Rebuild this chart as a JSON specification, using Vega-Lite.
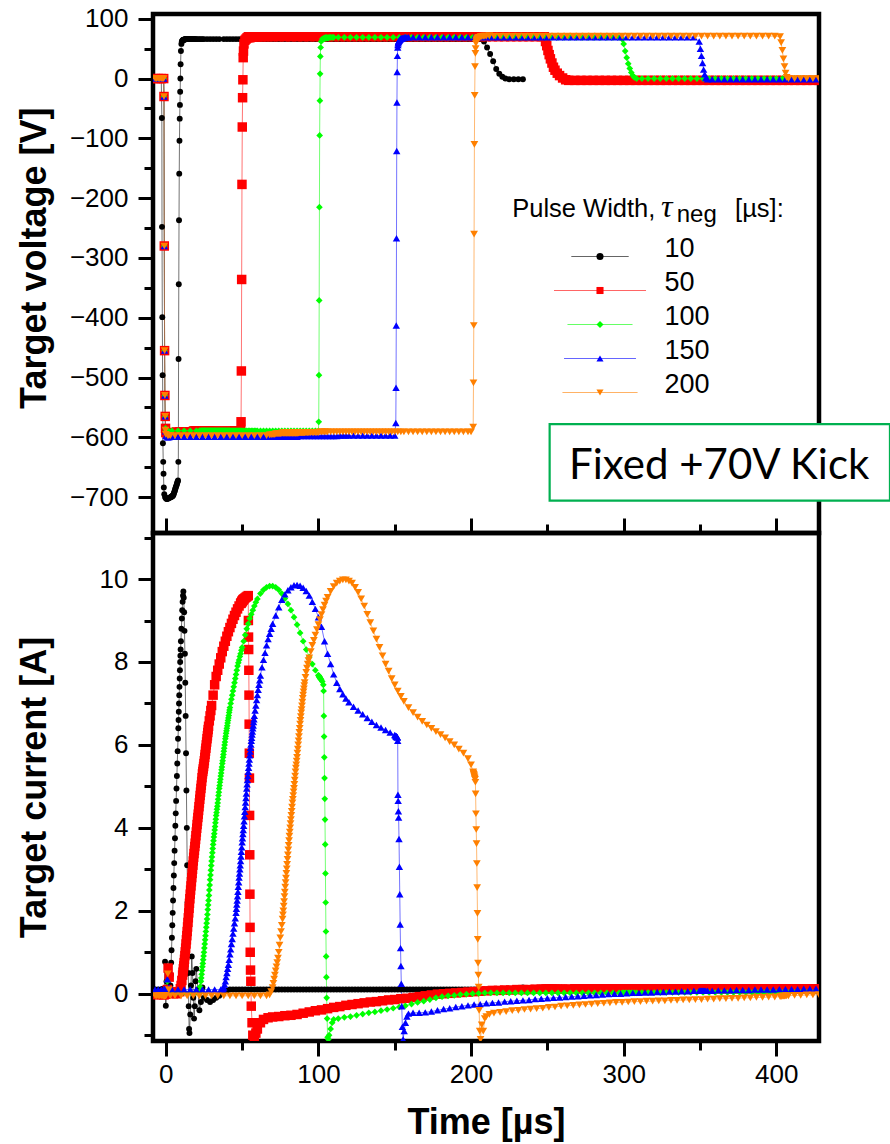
{
"$schema": "https://vega.github.io/schema/vega-lite/v6.json",
"background": "white",
"padding": {"left": 14, "top": 3, "right": 0, "bottom": 0},
"spacing": 0,
"bounds": "flush",
"config": {
  "font": "Liberation Sans",
  "view": {"stroke": "black", "strokeWidth": 4.5},
  "axis": {"domain": false, "grid": false, "tickColor": "black", "tickWidth": 3, "labelFont": "Liberation Sans", "labelFontSize": 26, "labelColor": "black", "labelFlush": false, "labelOverlap": false, "titleFont": "Liberation Sans", "titleFontSize": 36, "titleFontWeight": "bold", "titleColor": "black"},
  "legend": {"labelFont": "Liberation Sans"}
},
"resolve": {"scale": {"stroke": "independent", "fill": "independent", "shape": "independent", "size": "independent"}},
"data": {"values": [
{"pw":10,"t":-7,"V":0,"I":0.1},{"pw":10,"t":-5,"V":0,"I":0.1},{"pw":10,"t":-3,"V":0,"I":0.1},{"pw":10,"t":-2.6,"V":-66,"I":0.1},{"pw":10,"t":-2.5,"V":-248,"I":0.1},{"pw":10,"t":-2.3,"V":-399,"I":0.1},{"pw":10,"t":-2.1,"V":-496,"I":0.1},{"pw":10,"t":-1.9,"V":-610,"I":0.1},{"pw":10,"t":-1.7,"V":-641,"I":0.1},{"pw":10,"t":-1.5,"V":-661,"I":0.1},{"pw":10,"t":-1.3,"V":-684,"I":0.1},{"pw":10,"t":-1,"V":-695,"I":0.1},{"pw":10,"t":-0.5,"V":-700,"I":0.77},{"pw":10,"t":0,"V":-702,"I":-0.29},{"pw":10,"t":0.5,"V":-703,"I":0.3},{"pw":10,"t":1,"V":-703,"I":0.1},{"pw":10,"t":1.5,"V":-702,"I":0.1},{"pw":10,"t":2,"V":-702,"I":0.1},{"pw":10,"t":2.5,"V":-701,"I":0.1},{"pw":10,"t":3,"V":-700,"I":0.2},{"pw":10,"t":3.25,"V":-700,"I":0.45},{"pw":10,"t":3.5,"V":-700,"I":0.75},{"pw":10,"t":3.75,"V":-699,"I":1.05},{"pw":10,"t":4,"V":-699,"I":1.35},{"pw":10,"t":4.25,"V":-698,"I":1.65},{"pw":10,"t":4.5,"V":-698,"I":1.95},{"pw":10,"t":4.75,"V":-697,"I":2.25},{"pw":10,"t":5,"V":-696,"I":2.55},{"pw":10,"t":5.25,"V":-694,"I":2.85},{"pw":10,"t":5.5,"V":-692,"I":3.15},{"pw":10,"t":5.75,"V":-690,"I":3.45},{"pw":10,"t":6,"V":-688,"I":3.75},{"pw":10,"t":6.25,"V":-686,"I":4.05},{"pw":10,"t":6.5,"V":-684,"I":4.35},{"pw":10,"t":6.75,"V":-682,"I":4.65},{"pw":10,"t":7,"V":-680,"I":4.95},{"pw":10,"t":7.25,"V":-678,"I":5.25},{"pw":10,"t":7.5,"V":-676,"I":5.55},{"pw":10,"t":7.75,"V":-674,"I":5.85},{"pw":10,"t":8,"V":-672,"I":6.15},{"pw":10,"t":8.2,"V":-641,"I":6.4},{"pw":10,"t":8.35,"V":-469,"I":6.6},{"pw":10,"t":8.5,"V":-344,"I":6.8},{"pw":10,"t":8.65,"V":-237,"I":7},{"pw":10,"t":8.8,"V":-159,"I":7.2},{"pw":10,"t":8.95,"V":-104,"I":7.4},{"pw":10,"t":9.1,"V":-67,"I":7.6},{"pw":10,"t":9.25,"V":-44,"I":7.8},{"pw":10,"t":9.4,"V":-22,"I":8},{"pw":10,"t":9.55,"V":0,"I":8.15},{"pw":10,"t":9.7,"V":24,"I":8.3},{"pw":10,"t":9.9,"V":46,"I":8.5},{"pw":10,"t":10.2,"V":58,"I":8.8},{"pw":10,"t":10.5,"V":62,"I":9.05},{"pw":10,"t":10.75,"V":63,"I":9.25},{"pw":10,"t":11,"V":64,"I":9.45},{"pw":10,"t":11.25,"V":64,"I":9.6},{"pw":10,"t":11.5,"V":65,"I":9.7},{"pw":10,"t":11.75,"V":65,"I":9.55},{"pw":10,"t":12,"V":65,"I":9.2},{"pw":10,"t":12.25,"V":65,"I":8.75},{"pw":10,"t":12.5,"V":66,"I":8.2},{"pw":10,"t":12.75,"V":66,"I":7.5},{"pw":10,"t":13,"V":66,"I":6.7},{"pw":10,"t":13.25,"V":66,"I":5.8},{"pw":10,"t":13.5,"V":66,"I":4.9},{"pw":10,"t":13.75,"V":66,"I":4},{"pw":10,"t":14,"V":66,"I":3.1},{"pw":10,"t":14.25,"V":66,"I":2.2},{"pw":10,"t":14.5,"V":66,"I":1.3},{"pw":10,"t":14.75,"V":66,"I":0.5},{"pw":10,"t":15,"V":66,"I":-0.3},{"pw":10,"t":15.25,"V":66,"I":-0.85},{"pw":10,"t":15.5,"V":66,"I":-0.95},{"pw":10,"t":16,"V":66,"I":-0.5},{"pw":10,"t":16.5,"V":66,"I":0.2},{"pw":10,"t":17,"V":66,"I":0.9},{"pw":10,"t":17.5,"V":66,"I":0.5},{"pw":10,"t":18,"V":66,"I":-0.1},{"pw":10,"t":18.5,"V":66,"I":-0.6},{"pw":10,"t":19,"V":66,"I":-0.3},{"pw":10,"t":19.5,"V":66,"I":0.3},{"pw":10,"t":20,"V":66,"I":0.6},{"pw":10,"t":21,"V":66,"I":0.1},{"pw":10,"t":22,"V":66,"I":-0.4},{"pw":10,"t":23,"V":66,"I":-0.2},{"pw":10,"t":24,"V":66,"I":0.15},{"pw":10,"t":25,"V":66,"I":-0.1},{"pw":10,"t":27,"V":66,"I":-0.15},{"pw":10,"t":29,"V":66,"I":-0.2},{"pw":10,"t":31,"V":66,"I":-0.15},{"pw":10,"t":33,"V":66,"I":-0.1},{"pw":10,"t":35,"V":66,"I":-0.05},{"pw":10,"t":38,"V":66,"I":0.05},{"pw":10,"t":40,"V":66,"I":0.08},
{"pw":10,"t":42,"V":66,"I":0.1},{"pw":10,"t":44,"V":66,"I":0.1},{"pw":10,"t":46,"V":66,"I":0.1},{"pw":10,"t":48,"V":66,"I":0.1},{"pw":10,"t":50,"V":66,"I":0.1},{"pw":10,"t":52,"V":66,"I":0.1},{"pw":10,"t":54,"V":66,"I":0.1},{"pw":10,"t":56,"V":66,"I":0.1},{"pw":10,"t":58,"V":66,"I":0.1},{"pw":10,"t":60,"V":66,"I":0.1},{"pw":10,"t":62,"V":66,"I":0.1},{"pw":10,"t":64,"V":66,"I":0.1},{"pw":10,"t":66,"V":66,"I":0.1},{"pw":10,"t":68,"V":66,"I":0.1},{"pw":10,"t":70,"V":66,"I":0.1},{"pw":10,"t":72,"V":66,"I":0.1},{"pw":10,"t":74,"V":66,"I":0.1},{"pw":10,"t":76,"V":66,"I":0.1},{"pw":10,"t":78,"V":66,"I":0.1},{"pw":10,"t":80,"V":66,"I":0.1},{"pw":10,"t":82,"V":66,"I":0.1},{"pw":10,"t":84,"V":66,"I":0.1},{"pw":10,"t":86,"V":66,"I":0.1},{"pw":10,"t":88,"V":66,"I":0.1},{"pw":10,"t":90,"V":66,"I":0.1},{"pw":10,"t":92,"V":66,"I":0.1},{"pw":10,"t":94,"V":66,"I":0.1},{"pw":10,"t":96,"V":66,"I":0.1},{"pw":10,"t":98,"V":66,"I":0.1},{"pw":10,"t":100,"V":66,"I":0.1},{"pw":10,"t":102,"V":66,"I":0.1},{"pw":10,"t":104,"V":66,"I":0.1},{"pw":10,"t":106,"V":66,"I":0.1},{"pw":10,"t":108,"V":66,"I":0.1},{"pw":10,"t":110,"V":66,"I":0.1},{"pw":10,"t":112,"V":66,"I":0.1},{"pw":10,"t":114,"V":66,"I":0.1},{"pw":10,"t":116,"V":66,"I":0.1},{"pw":10,"t":118,"V":66,"I":0.1},{"pw":10,"t":120,"V":66,"I":0.1},{"pw":10,"t":122,"V":66,"I":0.1},{"pw":10,"t":124,"V":66,"I":0.1},{"pw":10,"t":126,"V":66,"I":0.1},{"pw":10,"t":128,"V":66,"I":0.1},{"pw":10,"t":130,"V":66,"I":0.1},{"pw":10,"t":132,"V":66,"I":0.1},{"pw":10,"t":134,"V":66,"I":0.1},{"pw":10,"t":136,"V":66,"I":0.1},{"pw":10,"t":138,"V":66,"I":0.1},{"pw":10,"t":140,"V":66,"I":0.1},{"pw":10,"t":142,"V":66,"I":0.1},{"pw":10,"t":144,"V":66,"I":0.1},{"pw":10,"t":146,"V":66,"I":0.1},{"pw":10,"t":148,"V":66,"I":0.1},{"pw":10,"t":150,"V":66,"I":0.1},{"pw":10,"t":152,"V":66,"I":0.1},{"pw":10,"t":154,"V":66,"I":0.1},{"pw":10,"t":156,"V":66,"I":0.1},{"pw":10,"t":158,"V":66,"I":0.1},{"pw":10,"t":160,"V":66,"I":0.1},{"pw":10,"t":162,"V":66,"I":0.1},{"pw":10,"t":164,"V":66,"I":0.1},{"pw":10,"t":166,"V":66,"I":0.1},{"pw":10,"t":168,"V":66,"I":0.1},{"pw":10,"t":170,"V":66,"I":0.1},{"pw":10,"t":172,"V":66,"I":0.1},{"pw":10,"t":174,"V":66,"I":0.1},{"pw":10,"t":176,"V":66,"I":0.1},{"pw":10,"t":178,"V":66,"I":0.1},{"pw":10,"t":180,"V":66,"I":0.1},{"pw":10,"t":182,"V":66,"I":0.1},{"pw":10,"t":184,"V":66,"I":0.1},{"pw":10,"t":186,"V":66,"I":0.1},{"pw":10,"t":188,"V":66,"I":0.1},{"pw":10,"t":190,"V":66,"I":0.1},{"pw":10,"t":192,"V":66,"I":0.1},{"pw":10,"t":194,"V":66,"I":0.1},{"pw":10,"t":196,"V":66,"I":0.1},{"pw":10,"t":198,"V":66,"I":0.1},{"pw":10,"t":200,"V":66,"I":0.1},{"pw":10,"t":202,"V":66,"I":0.1},{"pw":10,"t":204,"V":66,"I":0.1},{"pw":10,"t":206,"V":66,"I":0.1},{"pw":10,"t":208.5,"V":62,"I":0.1},{"pw":10,"t":210.5,"V":52,"I":0.1},{"pw":10,"t":212.5,"V":41,"I":0.1},{"pw":10,"t":214.5,"V":29,"I":0.1},{"pw":10,"t":216.5,"V":16,"I":0.1},{"pw":10,"t":218.5,"V":8,"I":0.1},{"pw":10,"t":220.5,"V":3,"I":0.1},{"pw":10,"t":222.5,"V":0,"I":0.1},{"pw":10,"t":225,"V":-1,"I":0.1},{"pw":10,"t":228,"V":-1,"I":0.1},{"pw":10,"t":231,"V":-1,"I":0.12},{"pw":10,"t":234,"V":-1,"I":0.15},
{"pw":50,"t":-7,"V":0,"I":-0.02},{"pw":50,"t":-5,"V":0,"I":-0.02},{"pw":50,"t":-3,"V":0,"I":-0.02},{"pw":50,"t":-1.4,"V":0,"I":-0.02},{"pw":50,"t":-1.2,"V":-30,"I":-0.02},{"pw":50,"t":-1,"V":-280,"I":-0.02},{"pw":50,"t":-0.8,"V":-455,"I":0},{"pw":50,"t":-0.6,"V":-530,"I":0},{"pw":50,"t":-0.4,"V":-565,"I":0},{"pw":50,"t":-0.2,"V":-585,"I":0},{"pw":50,"t":0,"V":-592,"I":0},{"pw":50,"t":1,"V":-594,"I":0.1},{"pw":50,"t":1.5,"V":-594,"I":0.62},{"pw":50,"t":2.2,"V":-594,"I":0.4},{"pw":50,"t":3,"V":-593,"I":0.05},{"pw":50,"t":5,"V":-592,"I":0},{"pw":50,"t":7,"V":-591,"I":0},{"pw":50,"t":9,"V":-591,"I":0.05},{"pw":50,"t":9.5,"V":-591,"I":0.12},{"pw":50,"t":10,"V":-591,"I":0.2},{"pw":50,"t":10.5,"V":-591,"I":0.32},{"pw":50,"t":11,"V":-591,"I":0.45},{"pw":50,"t":11.25,"V":-591,"I":0.52},{"pw":50,"t":11.5,"V":-591,"I":0.6},{"pw":50,"t":11.75,"V":-591,"I":0.67},{"pw":50,"t":12,"V":-591,"I":0.75},{"pw":50,"t":12.25,"V":-591,"I":0.83},{"pw":50,"t":12.5,"V":-591,"I":0.92},{"pw":50,"t":12.75,"V":-591,"I":1.01},{"pw":50,"t":13,"V":-591,"I":1.1},{"pw":50,"t":13.25,"V":-591,"I":1.2},{"pw":50,"t":13.5,"V":-591,"I":1.3},{"pw":50,"t":13.75,"V":-591,"I":1.4},{"pw":50,"t":14,"V":-591,"I":1.5},{"pw":50,"t":14.25,"V":-591,"I":1.61},{"pw":50,"t":14.5,"V":-591,"I":1.72},{"pw":50,"t":14.75,"V":-591,"I":1.83},{"pw":50,"t":15,"V":-591,"I":1.95},{"pw":50,"t":15.25,"V":-591,"I":2.06},{"pw":50,"t":15.5,"V":-591,"I":2.18},{"pw":50,"t":15.75,"V":-591,"I":2.29},{"pw":50,"t":16,"V":-591,"I":2.4},{"pw":50,"t":16.25,"V":-591,"I":2.5},{"pw":50,"t":16.5,"V":-591,"I":2.6},{"pw":50,"t":16.75,"V":-591,"I":2.7},{"pw":50,"t":17,"V":-591,"I":2.8},{"pw":50,"t":17.25,"V":-591,"I":2.9},{"pw":50,"t":17.5,"V":-591,"I":3},{"pw":50,"t":17.75,"V":-591,"I":3.1},{"pw":50,"t":18,"V":-590,"I":3.2},{"pw":50,"t":18.25,"V":-590,"I":3.29},{"pw":50,"t":18.5,"V":-590,"I":3.38},{"pw":50,"t":18.75,"V":-590,"I":3.46},{"pw":50,"t":19,"V":-590,"I":3.55},{"pw":50,"t":19.25,"V":-590,"I":3.63},{"pw":50,"t":19.5,"V":-590,"I":3.72},{"pw":50,"t":19.75,"V":-590,"I":3.81},{"pw":50,"t":20,"V":-590,"I":3.9},{"pw":50,"t":20.25,"V":-590,"I":3.99},{"pw":50,"t":20.5,"V":-590,"I":4.08},{"pw":50,"t":20.75,"V":-590,"I":4.16},{"pw":50,"t":21,"V":-590,"I":4.25},{"pw":50,"t":21.25,"V":-590,"I":4.33},{"pw":50,"t":21.5,"V":-590,"I":4.42},{"pw":50,"t":21.75,"V":-590,"I":4.51},{"pw":50,"t":22,"V":-590,"I":4.6},{"pw":50,"t":22.25,"V":-590,"I":4.69},{"pw":50,"t":22.5,"V":-590,"I":4.78},{"pw":50,"t":22.75,"V":-590,"I":4.86},{"pw":50,"t":23,"V":-590,"I":4.95},{"pw":50,"t":23.25,"V":-590,"I":5.03},{"pw":50,"t":23.5,"V":-590,"I":5.12},{"pw":50,"t":23.75,"V":-590,"I":5.21},{"pw":50,"t":24,"V":-590,"I":5.3},{"pw":50,"t":24.25,"V":-590,"I":5.36},{"pw":50,"t":24.5,"V":-590,"I":5.42},{"pw":50,"t":24.75,"V":-590,"I":5.48},{"pw":50,"t":25,"V":-590,"I":5.55},{"pw":50,"t":25.25,"V":-590,"I":5.62},{"pw":50,"t":25.5,"V":-590,"I":5.7},{"pw":50,"t":25.75,"V":-590,"I":5.77},{"pw":50,"t":26,"V":-590,"I":5.85},{"pw":50,"t":26.25,"V":-590,"I":5.92},{"pw":50,"t":26.5,"V":-590,"I":6},{"pw":50,"t":26.75,"V":-590,"I":6.07},{"pw":50,"t":27,"V":-590,"I":6.15},{"pw":50,"t":27.25,"V":-590,"I":6.22},{"pw":50,"t":27.5,"V":-590,"I":6.3},{"pw":50,"t":27.75,"V":-590,"I":6.37},{"pw":50,"t":28,"V":-590,"I":6.45},{"pw":50,"t":28.5,"V":-590,"I":6.58},{"pw":50,"t":29,"V":-590,"I":6.7},{"pw":50,"t":29.5,"V":-590,"I":6.83},{"pw":50,"t":30,"V":-590,"I":6.95},{"pw":50,"t":31,"V":-590,"I":7.2},{"pw":50,"t":32,"V":-590,"I":7.45},{"pw":50,"t":33,"V":-590,"I":7.65},{"pw":50,"t":34,"V":-590,"I":7.8},{"pw":50,"t":35,"V":-590,"I":7.95},{"pw":50,"t":36,"V":-590,"I":8.1},{"pw":50,"t":37,"V":-590,"I":8.25},{"pw":50,"t":38,"V":-590,"I":8.38},{"pw":50,"t":39,"V":-590,"I":8.5},{"pw":50,"t":40,"V":-590,"I":8.62},{"pw":50,"t":41,"V":-590,"I":8.73},{"pw":50,"t":42,"V":-590,"I":8.83},{"pw":50,"t":43,"V":-590,"I":8.93},{"pw":50,"t":44,"V":-590,"I":9.03},{"pw":50,"t":45,"V":-589,"I":9.12},{"pw":50,"t":46,"V":-589,"I":9.2},{"pw":50,"t":47,"V":-589,"I":9.28},{"pw":50,"t":48,"V":-589,"I":9.35},{"pw":50,"t":49,"V":-589,"I":9.41},{"pw":50,"t":49.3,"V":-574,"I":9.42},{"pw":50,"t":49.5,"V":-489,"I":9.43},{"pw":50,"t":49.7,"V":-336,"I":9.44},{"pw":50,"t":49.9,"V":-177,"I":9.46},{"pw":50,"t":50.1,"V":-81,"I":9.47},{"pw":50,"t":50.3,"V":-32,"I":9.48},{"pw":50,"t":50.5,"V":-2,"I":9.49},{"pw":50,"t":50.7,"V":35,"I":9.5},{"pw":50,"t":50.9,"V":46,"I":9.51},{"pw":50,"t":51.2,"V":58,"I":9.52},{"pw":50,"t":51.8,"V":64,"I":9.54},{"pw":50,"t":52.5,"V":66,"I":9.56},{"pw":50,"t":53.2,"V":68,"I":9.58},{"pw":50,"t":54,"V":69,"I":9.6},{"pw":50,"t":54.1,"V":69,"I":9},{"pw":50,"t":54.2,"V":69,"I":8.6},{"pw":50,"t":54.3,"V":69,"I":8.3},{"pw":50,"t":54.4,"V":69,"I":7.8},{"pw":50,"t":54.5,"V":69,"I":7.2},{"pw":50,"t":54.6,"V":69,"I":6.5},{"pw":50,"t":54.7,"V":69,"I":5.8},{"pw":50,"t":54.8,"V":69,"I":5.2},{"pw":50,"t":54.9,"V":69,"I":4.3},{"pw":50,"t":55,"V":69,"I":3.35},{"pw":50,"t":55.1,"V":69,"I":2.4},{"pw":50,"t":55.2,"V":69,"I":1.6},{"pw":50,"t":55.3,"V":69,"I":1},{"pw":50,"t":55.5,"V":69,"I":0.57},{"pw":50,"t":55.7,"V":69,"I":0.3},{"pw":50,"t":56,"V":70,"I":-0.3},{"pw":50,"t":56.5,"V":70,"I":-0.7},{"pw":50,"t":57,"V":70,"I":-1},{"pw":50,"t":58,"V":70,"I":-1.05},{"pw":50,"t":59,"V":70,"I":-0.95},{"pw":50,"t":60,"V":70,"I":-0.85},{"pw":50,"t":62,"V":70,"I":-0.7},{"pw":50,"t":64,"V":70,"I":-0.62},{"pw":50,"t":67,"V":70,"I":-0.58},
{"pw":50,"t":70,"V":70,"I":-0.56},{"pw":50,"t":74,"V":70,"I":-0.55},{"pw":50,"t":78,"V":70,"I":-0.53},{"pw":50,"t":82,"V":70,"I":-0.52},{"pw":50,"t":86,"V":70,"I":-0.5},{"pw":50,"t":90,"V":70,"I":-0.47},{"pw":50,"t":94,"V":70,"I":-0.44},{"pw":50,"t":98,"V":70,"I":-0.41},{"pw":50,"t":102,"V":70,"I":-0.39},{"pw":50,"t":106,"V":70,"I":-0.36},{"pw":50,"t":110,"V":70,"I":-0.33},{"pw":50,"t":114,"V":70,"I":-0.31},{"pw":50,"t":118,"V":70,"I":-0.28},{"pw":50,"t":122,"V":70,"I":-0.26},{"pw":50,"t":126,"V":70,"I":-0.24},{"pw":50,"t":130,"V":70,"I":-0.22},{"pw":50,"t":134,"V":70,"I":-0.2},{"pw":50,"t":138,"V":70,"I":-0.19},{"pw":50,"t":142,"V":70,"I":-0.17},{"pw":50,"t":146,"V":70,"I":-0.15},{"pw":50,"t":150,"V":70,"I":-0.14},{"pw":50,"t":154,"V":70,"I":-0.12},{"pw":50,"t":158,"V":70,"I":-0.11},{"pw":50,"t":162,"V":70,"I":-0.09},{"pw":50,"t":166,"V":70,"I":-0.07},{"pw":50,"t":170,"V":70,"I":-0.05},{"pw":50,"t":174,"V":70,"I":-0.03},{"pw":50,"t":178,"V":70,"I":-0.01},{"pw":50,"t":182,"V":70,"I":0},{"pw":50,"t":186,"V":70,"I":0.01},{"pw":50,"t":190,"V":70,"I":0.02},{"pw":50,"t":194,"V":70,"I":0.03},{"pw":50,"t":198,"V":70,"I":0.04},{"pw":50,"t":202,"V":70,"I":0.05},{"pw":50,"t":206,"V":70,"I":0.06},{"pw":50,"t":210,"V":70,"I":0.07},{"pw":50,"t":214,"V":70,"I":0.08},{"pw":50,"t":218,"V":70,"I":0.08},{"pw":50,"t":222,"V":70,"I":0.09},{"pw":50,"t":226,"V":70,"I":0.09},{"pw":50,"t":230,"V":70,"I":0.1},{"pw":50,"t":234,"V":70,"I":0.1},{"pw":50,"t":238,"V":70,"I":0.1},{"pw":50,"t":242,"V":70,"I":0.11},{"pw":50,"t":246,"V":70,"I":0.11},{"pw":50,"t":248,"V":70,"I":0.11},{"pw":50,"t":248.8,"V":62,"I":0.11},{"pw":50,"t":249.6,"V":55,"I":0.11},{"pw":50,"t":250.4,"V":47,"I":0.11},{"pw":50,"t":251.2,"V":40,"I":0.11},{"pw":50,"t":252,"V":33,"I":0.11},{"pw":50,"t":253,"V":26,"I":0.11},{"pw":50,"t":254,"V":19,"I":0.11},{"pw":50,"t":255,"V":14,"I":0.11},{"pw":50,"t":256.5,"V":9,"I":0.11},{"pw":50,"t":258,"V":5,"I":0.11},{"pw":50,"t":260,"V":1,"I":0.11},{"pw":50,"t":262,"V":-2,"I":0.11},{"pw":50,"t":264,"V":-3,"I":0.11},
{"pw":50,"t":268,"V":-3,"I":0.12},{"pw":50,"t":272,"V":-3,"I":0.12},{"pw":50,"t":276,"V":-3,"I":0.12},{"pw":50,"t":280,"V":-3,"I":0.12},{"pw":50,"t":284,"V":-3,"I":0.12},{"pw":50,"t":288,"V":-3,"I":0.12},{"pw":50,"t":292,"V":-3,"I":0.12},{"pw":50,"t":296,"V":-3,"I":0.12},{"pw":50,"t":300,"V":-3,"I":0.12},{"pw":50,"t":304,"V":-3,"I":0.12},{"pw":50,"t":308,"V":-3,"I":0.12},{"pw":50,"t":312,"V":-3,"I":0.12},{"pw":50,"t":316,"V":-3,"I":0.12},{"pw":50,"t":320,"V":-3,"I":0.12},{"pw":50,"t":324,"V":-3,"I":0.12},{"pw":50,"t":328,"V":-3,"I":0.12},{"pw":50,"t":332,"V":-3,"I":0.12},{"pw":50,"t":336,"V":-3,"I":0.12},{"pw":50,"t":340,"V":-3,"I":0.12},{"pw":50,"t":344,"V":-3,"I":0.12},{"pw":50,"t":348,"V":-3,"I":0.12},{"pw":50,"t":352,"V":-3,"I":0.12},{"pw":50,"t":356,"V":-3,"I":0.12},{"pw":50,"t":360,"V":-3,"I":0.12},{"pw":50,"t":364,"V":-3,"I":0.12},{"pw":50,"t":368,"V":-3,"I":0.12},{"pw":50,"t":372,"V":-3,"I":0.12},{"pw":50,"t":376,"V":-3,"I":0.12},{"pw":50,"t":380,"V":-3,"I":0.12},{"pw":50,"t":384,"V":-3,"I":0.12},{"pw":50,"t":388,"V":-3,"I":0.12},{"pw":50,"t":392,"V":-3,"I":0.12},{"pw":50,"t":396,"V":-3,"I":0.12},{"pw":50,"t":400,"V":-3,"I":0.12},{"pw":50,"t":404,"V":-3,"I":0.12},{"pw":50,"t":408,"V":-3,"I":0.12},{"pw":50,"t":412,"V":-3,"I":0.12},{"pw":50,"t":416,"V":-3,"I":0.12},{"pw":50,"t":420,"V":-3,"I":0.12},{"pw":50,"t":424,"V":-3,"I":0.12},{"pw":50,"t":428,"V":-3,"I":0.12},
{"pw":100,"t":-7,"V":0,"I":0.03},{"pw":100,"t":-5,"V":0,"I":0.03},{"pw":100,"t":-3,"V":0,"I":0.03},{"pw":100,"t":-1.4,"V":0,"I":0.03},{"pw":100,"t":-1.2,"V":-30,"I":0.03},{"pw":100,"t":-1,"V":-280,"I":0.03},{"pw":100,"t":-0.8,"V":-455,"I":0.03},{"pw":100,"t":-0.6,"V":-530,"I":0.03},{"pw":100,"t":-0.4,"V":-565,"I":0.03},{"pw":100,"t":-0.2,"V":-585,"I":0.03},{"pw":100,"t":0,"V":-590,"I":0.03},{"pw":100,"t":1,"V":-591,"I":0.3},{"pw":100,"t":2,"V":-590,"I":0.1},{"pw":100,"t":4,"V":-589,"I":0.04},{"pw":100,"t":8,"V":-589,"I":0.04},{"pw":100,"t":12,"V":-589,"I":0.04},{"pw":100,"t":16,"V":-589,"I":0.04},{"pw":100,"t":20,"V":-589,"I":0.04},{"pw":100,"t":22,"V":-589,"I":0.05},{"pw":100,"t":22.5,"V":-589,"I":0.17},{"pw":100,"t":23,"V":-589,"I":0.3},{"pw":100,"t":23.25,"V":-589,"I":0.38},{"pw":100,"t":23.5,"V":-589,"I":0.47},{"pw":100,"t":23.75,"V":-589,"I":0.56},{"pw":100,"t":24,"V":-589,"I":0.65},{"pw":100,"t":24.25,"V":-589,"I":0.73},{"pw":100,"t":24.5,"V":-589,"I":0.82},{"pw":100,"t":24.75,"V":-589,"I":0.91},{"pw":100,"t":25,"V":-589,"I":1},{"pw":100,"t":25.25,"V":-589,"I":1.1},{"pw":100,"t":25.5,"V":-589,"I":1.2},{"pw":100,"t":25.75,"V":-589,"I":1.3},{"pw":100,"t":26,"V":-589,"I":1.4},{"pw":100,"t":26.25,"V":-589,"I":1.5},{"pw":100,"t":26.5,"V":-589,"I":1.6},{"pw":100,"t":26.75,"V":-589,"I":1.7},{"pw":100,"t":27,"V":-589,"I":1.8},{"pw":100,"t":27.25,"V":-589,"I":1.91},{"pw":100,"t":27.5,"V":-589,"I":2.03},{"pw":100,"t":27.75,"V":-589,"I":2.14},{"pw":100,"t":28,"V":-589,"I":2.25},{"pw":100,"t":28.25,"V":-589,"I":2.37},{"pw":100,"t":28.5,"V":-589,"I":2.5},{"pw":100,"t":28.75,"V":-589,"I":2.62},{"pw":100,"t":29,"V":-589,"I":2.75},{"pw":100,"t":29.25,"V":-589,"I":2.86},{"pw":100,"t":29.5,"V":-589,"I":2.98},{"pw":100,"t":29.75,"V":-589,"I":3.09},{"pw":100,"t":30,"V":-589,"I":3.2},{"pw":100,"t":30.25,"V":-589,"I":3.3},{"pw":100,"t":30.5,"V":-589,"I":3.4},{"pw":100,"t":30.75,"V":-589,"I":3.5},{"pw":100,"t":31,"V":-589,"I":3.6},{"pw":100,"t":31.25,"V":-589,"I":3.69},{"pw":100,"t":31.5,"V":-589,"I":3.78},{"pw":100,"t":31.75,"V":-589,"I":3.86},{"pw":100,"t":32,"V":-589,"I":3.95},{"pw":100,"t":32.25,"V":-589,"I":4.03},{"pw":100,"t":32.5,"V":-589,"I":4.12},{"pw":100,"t":32.75,"V":-589,"I":4.21},{"pw":100,"t":33,"V":-589,"I":4.3},{"pw":100,"t":33.25,"V":-589,"I":4.37},{"pw":100,"t":33.5,"V":-589,"I":4.45},{"pw":100,"t":33.75,"V":-589,"I":4.52},{"pw":100,"t":34,"V":-589,"I":4.6},{"pw":100,"t":34.25,"V":-589,"I":4.69},{"pw":100,"t":34.5,"V":-589,"I":4.78},{"pw":100,"t":34.75,"V":-589,"I":4.86},{"pw":100,"t":35,"V":-589,"I":4.95},{"pw":100,"t":35.25,"V":-589,"I":5.02},{"pw":100,"t":35.5,"V":-589,"I":5.1},{"pw":100,"t":35.75,"V":-589,"I":5.17},{"pw":100,"t":36,"V":-589,"I":5.25},{"pw":100,"t":36.25,"V":-589,"I":5.32},{"pw":100,"t":36.5,"V":-589,"I":5.4},{"pw":100,"t":36.75,"V":-589,"I":5.47},{"pw":100,"t":37,"V":-589,"I":5.55},{"pw":100,"t":37.25,"V":-589,"I":5.62},{"pw":100,"t":37.5,"V":-589,"I":5.7},{"pw":100,"t":37.75,"V":-589,"I":5.77},{"pw":100,"t":38,"V":-589,"I":5.85},{"pw":100,"t":38.25,"V":-589,"I":5.92},{"pw":100,"t":38.5,"V":-589,"I":6},{"pw":100,"t":38.75,"V":-589,"I":6.07},{"pw":100,"t":39,"V":-589,"I":6.15},{"pw":100,"t":39.25,"V":-589,"I":6.21},{"pw":100,"t":39.5,"V":-589,"I":6.28},{"pw":100,"t":39.75,"V":-589,"I":6.34},{"pw":100,"t":40,"V":-589,"I":6.4},{"pw":100,"t":40.25,"V":-589,"I":6.46},{"pw":100,"t":40.5,"V":-589,"I":6.53},{"pw":100,"t":40.75,"V":-589,"I":6.59},{"pw":100,"t":41,"V":-589,"I":6.65},{"pw":100,"t":41.25,"V":-589,"I":6.71},{"pw":100,"t":41.5,"V":-589,"I":6.78},{"pw":100,"t":41.75,"V":-589,"I":6.84},{"pw":100,"t":42,"V":-589,"I":6.9},{"pw":100,"t":42.5,"V":-589,"I":7},{"pw":100,"t":43,"V":-589,"I":7.1},{"pw":100,"t":43.5,"V":-589,"I":7.2},{"pw":100,"t":44,"V":-589,"I":7.3},{"pw":100,"t":44.5,"V":-589,"I":7.4},{"pw":100,"t":45,"V":-589,"I":7.5},{"pw":100,"t":45.5,"V":-589,"I":7.6},{"pw":100,"t":46,"V":-589,"I":7.7},{"pw":100,"t":46.5,"V":-589,"I":7.8},{"pw":100,"t":47,"V":-589,"I":7.9},{"pw":100,"t":47.5,"V":-589,"I":7.98},{"pw":100,"t":48,"V":-589,"I":8.05},{"pw":100,"t":48.5,"V":-589,"I":8.13},{"pw":100,"t":49,"V":-589,"I":8.2},{"pw":100,"t":49.5,"V":-589,"I":8.28},{"pw":100,"t":50,"V":-589,"I":8.35},{"pw":100,"t":51,"V":-589,"I":8.5},{"pw":100,"t":52,"V":-589,"I":8.65},{"pw":100,"t":53,"V":-589,"I":8.8},{"pw":100,"t":54,"V":-589,"I":8.92},{"pw":100,"t":55,"V":-589,"I":9.05},{"pw":100,"t":56,"V":-589,"I":9.15},{"pw":100,"t":57,"V":-589,"I":9.25},{"pw":100,"t":58,"V":-589,"I":9.35},{"pw":100,"t":59,"V":-589,"I":9.44},{"pw":100,"t":60,"V":-589,"I":9.52},{"pw":100,"t":62,"V":-589,"I":9.65},{"pw":100,"t":64,"V":-589,"I":9.74},{"pw":100,"t":66,"V":-589,"I":9.8},{"pw":100,"t":68,"V":-589,"I":9.83},{"pw":100,"t":70,"V":-589,"I":9.83},{"pw":100,"t":72,"V":-589,"I":9.8},{"pw":100,"t":74,"V":-589,"I":9.74},{"pw":100,"t":76,"V":-589,"I":9.65},{"pw":100,"t":78,"V":-589,"I":9.53},{"pw":100,"t":80,"V":-589,"I":9.4},{"pw":100,"t":82,"V":-589,"I":9.25},{"pw":100,"t":84,"V":-589,"I":9.08},{"pw":100,"t":86,"V":-589,"I":8.9},{"pw":100,"t":88,"V":-589,"I":8.7},{"pw":100,"t":90,"V":-589,"I":8.5},{"pw":100,"t":92,"V":-589,"I":8.3},{"pw":100,"t":94,"V":-589,"I":8.12},{"pw":100,"t":96,"V":-589,"I":7.95},{"pw":100,"t":98,"V":-589,"I":7.8},{"pw":100,"t":100,"V":-589,"I":7.68},{"pw":100,"t":100.2,"V":-574,"I":7.67},{"pw":100,"t":100.35,"V":-496,"I":7.66},{"pw":100,"t":100.5,"V":-371,"I":7.65},{"pw":100,"t":100.65,"V":-215,"I":7.64},{"pw":100,"t":100.8,"V":-95,"I":7.63},{"pw":100,"t":100.95,"V":-37,"I":7.62},{"pw":100,"t":101.1,"V":8,"I":7.61},{"pw":100,"t":101.25,"V":37,"I":7.6},{"pw":100,"t":101.45,"V":52,"I":7.59},{"pw":100,"t":101.8,"V":62,"I":7.57},{"pw":100,"t":102.5,"V":66,"I":7.53},{"pw":100,"t":103.2,"V":67,"I":7.45},{"pw":100,"t":103.4,"V":67,"I":7.3},{"pw":100,"t":103.55,"V":67,"I":6.7},{"pw":100,"t":103.7,"V":67,"I":6.2},{"pw":100,"t":103.85,"V":67,"I":5.7},{"pw":100,"t":104,"V":67,"I":5.2},{"pw":100,"t":104.15,"V":67,"I":4.7},{"pw":100,"t":104.3,"V":68,"I":4.2},{"pw":100,"t":104.45,"V":68,"I":3.6},{"pw":100,"t":104.6,"V":68,"I":2.9},{"pw":100,"t":104.75,"V":68,"I":2.2},{"pw":100,"t":104.9,"V":68,"I":1.5},{"pw":100,"t":105.05,"V":68,"I":0.9},{"pw":100,"t":105.2,"V":68,"I":0.4},{"pw":100,"t":105.4,"V":68,"I":-0.1},{"pw":100,"t":105.7,"V":68,"I":-0.6},{"pw":100,"t":106,"V":68,"I":-1.05},{"pw":100,"t":106.5,"V":68,"I":-1.1},{"pw":100,"t":107,"V":69,"I":-1},{"pw":100,"t":108,"V":69,"I":-0.85},{"pw":100,"t":109,"V":69,"I":-0.7},{"pw":100,"t":110,"V":69,"I":-0.62},
{"pw":100,"t":113,"V":69,"I":-0.6},{"pw":100,"t":117,"V":69,"I":-0.57},{"pw":100,"t":121,"V":69,"I":-0.55},{"pw":100,"t":125,"V":69,"I":-0.52},{"pw":100,"t":129,"V":69,"I":-0.49},{"pw":100,"t":133,"V":69,"I":-0.46},{"pw":100,"t":137,"V":69,"I":-0.44},{"pw":100,"t":141,"V":69,"I":-0.41},{"pw":100,"t":145,"V":69,"I":-0.38},{"pw":100,"t":149,"V":69,"I":-0.35},{"pw":100,"t":153,"V":69,"I":-0.32},{"pw":100,"t":157,"V":69,"I":-0.29},{"pw":100,"t":161,"V":69,"I":-0.25},{"pw":100,"t":165,"V":69,"I":-0.21},{"pw":100,"t":169,"V":69,"I":-0.18},{"pw":100,"t":173,"V":69,"I":-0.14},{"pw":100,"t":177,"V":69,"I":-0.1},{"pw":100,"t":181,"V":69,"I":-0.07},{"pw":100,"t":185,"V":69,"I":-0.05},{"pw":100,"t":189,"V":69,"I":-0.04},{"pw":100,"t":193,"V":69,"I":-0.02},{"pw":100,"t":197,"V":69,"I":-0.01},{"pw":100,"t":201,"V":69,"I":0},{"pw":100,"t":205,"V":69,"I":0.01},{"pw":100,"t":209,"V":69,"I":0.02},{"pw":100,"t":213,"V":69,"I":0.02},{"pw":100,"t":217,"V":69,"I":0.02},{"pw":100,"t":221,"V":69,"I":0.02},{"pw":100,"t":225,"V":69,"I":0.02},{"pw":100,"t":229,"V":69,"I":0.02},{"pw":100,"t":233,"V":69,"I":0.02},{"pw":100,"t":237,"V":69,"I":0.02},{"pw":100,"t":241,"V":69,"I":0.02},{"pw":100,"t":245,"V":69,"I":0.02},{"pw":100,"t":249,"V":69,"I":0.02},{"pw":100,"t":253,"V":69,"I":0.02},{"pw":100,"t":257,"V":69,"I":0.02},{"pw":100,"t":261,"V":69,"I":0.02},{"pw":100,"t":265,"V":69,"I":0.02},{"pw":100,"t":269,"V":69,"I":0.02},{"pw":100,"t":273,"V":69,"I":0.02},{"pw":100,"t":277,"V":69,"I":0.02},{"pw":100,"t":281,"V":69,"I":0.02},{"pw":100,"t":285,"V":69,"I":0.02},{"pw":100,"t":289,"V":69,"I":0.02},{"pw":100,"t":293,"V":69,"I":0.02},{"pw":100,"t":297,"V":69,"I":0.02},{"pw":100,"t":299,"V":66,"I":0.02},{"pw":100,"t":300,"V":58,"I":0.02},{"pw":100,"t":301,"V":46,"I":0.02},{"pw":100,"t":302,"V":35,"I":0.02},{"pw":100,"t":303,"V":25,"I":0.02},{"pw":100,"t":304,"V":17,"I":0.02},{"pw":100,"t":305,"V":10,"I":0.02},{"pw":100,"t":306,"V":5,"I":0.02},{"pw":100,"t":307,"V":2,"I":0.02},{"pw":100,"t":308.5,"V":0,"I":0.02},
{"pw":100,"t":312,"V":0,"I":0.03},{"pw":100,"t":316,"V":0,"I":0.03},{"pw":100,"t":320,"V":0,"I":0.03},{"pw":100,"t":324,"V":0,"I":0.03},{"pw":100,"t":328,"V":0,"I":0.03},{"pw":100,"t":332,"V":0,"I":0.03},{"pw":100,"t":336,"V":0,"I":0.03},{"pw":100,"t":340,"V":0,"I":0.03},{"pw":100,"t":344,"V":0,"I":0.03},{"pw":100,"t":348,"V":0,"I":0.03},{"pw":100,"t":352,"V":0,"I":0.03},{"pw":100,"t":356,"V":0,"I":0.03},{"pw":100,"t":360,"V":0,"I":0.03},{"pw":100,"t":364,"V":0,"I":0.03},{"pw":100,"t":368,"V":0,"I":0.03},{"pw":100,"t":372,"V":0,"I":0.03},{"pw":100,"t":376,"V":0,"I":0.03},{"pw":100,"t":380,"V":0,"I":0.03},{"pw":100,"t":384,"V":0,"I":0.03},{"pw":100,"t":388,"V":0,"I":0.03},{"pw":100,"t":392,"V":0,"I":0.03},{"pw":100,"t":396,"V":0,"I":0.03},{"pw":100,"t":400,"V":0,"I":0.03},{"pw":100,"t":404,"V":0,"I":0.03},{"pw":100,"t":408,"V":0,"I":0.03},{"pw":100,"t":412,"V":0,"I":0.03},{"pw":100,"t":416,"V":0,"I":0.03},{"pw":100,"t":420,"V":0,"I":0.03},{"pw":100,"t":424,"V":0,"I":0.03},{"pw":100,"t":428,"V":0,"I":0.03},
{"pw":150,"t":-7,"V":0,"I":0.1},{"pw":150,"t":-5,"V":0,"I":0.1},{"pw":150,"t":-3,"V":0,"I":0.1},{"pw":150,"t":-1.4,"V":0,"I":0.1},{"pw":150,"t":-1.2,"V":-30,"I":0.1},{"pw":150,"t":-1,"V":-280,"I":0.1},{"pw":150,"t":-0.8,"V":-455,"I":0.1},{"pw":150,"t":-0.6,"V":-530,"I":0.1},{"pw":150,"t":-0.4,"V":-565,"I":0.1},{"pw":150,"t":-0.2,"V":-590,"I":0.1},{"pw":150,"t":0,"V":-598,"I":0.1},{"pw":150,"t":1,"V":-600,"I":0.35},{"pw":150,"t":2,"V":-600,"I":0.15},{"pw":150,"t":4,"V":-599,"I":0.1},{"pw":150,"t":8,"V":-599,"I":0.1},{"pw":150,"t":12,"V":-599,"I":0.1},{"pw":150,"t":16,"V":-599,"I":0.1},{"pw":150,"t":20,"V":-599,"I":0.1},{"pw":150,"t":24,"V":-599,"I":0.1},{"pw":150,"t":28,"V":-599,"I":0.1},{"pw":150,"t":32,"V":-599,"I":0.1},{"pw":150,"t":36,"V":-599,"I":0.1},{"pw":150,"t":37,"V":-599,"I":0.1},{"pw":150,"t":37.5,"V":-599,"I":0.12},{"pw":150,"t":38,"V":-599,"I":0.15},{"pw":150,"t":38.5,"V":-599,"I":0.22},{"pw":150,"t":39,"V":-599,"I":0.3},{"pw":150,"t":39.5,"V":-599,"I":0.4},{"pw":150,"t":40,"V":-599,"I":0.5},{"pw":150,"t":40.5,"V":-599,"I":0.6},{"pw":150,"t":41,"V":-599,"I":0.7},{"pw":150,"t":41.5,"V":-599,"I":0.82},{"pw":150,"t":42,"V":-599,"I":0.95},{"pw":150,"t":42.5,"V":-599,"I":1.07},{"pw":150,"t":43,"V":-599,"I":1.2},{"pw":150,"t":43.5,"V":-599,"I":1.32},{"pw":150,"t":44,"V":-599,"I":1.45},{"pw":150,"t":44.5,"V":-599,"I":1.57},{"pw":150,"t":45,"V":-599,"I":1.7},{"pw":150,"t":45.5,"V":-599,"I":1.82},{"pw":150,"t":46,"V":-599,"I":1.95},{"pw":150,"t":46.25,"V":-599,"I":2.05},{"pw":150,"t":46.5,"V":-599,"I":2.15},{"pw":150,"t":46.75,"V":-599,"I":2.25},{"pw":150,"t":47,"V":-599,"I":2.35},{"pw":150,"t":47.25,"V":-599,"I":2.46},{"pw":150,"t":47.5,"V":-599,"I":2.58},{"pw":150,"t":47.75,"V":-599,"I":2.69},{"pw":150,"t":48,"V":-599,"I":2.8},{"pw":150,"t":48.25,"V":-599,"I":2.9},{"pw":150,"t":48.5,"V":-599,"I":3},{"pw":150,"t":48.75,"V":-599,"I":3.1},{"pw":150,"t":49,"V":-599,"I":3.2},{"pw":150,"t":49.25,"V":-599,"I":3.31},{"pw":150,"t":49.5,"V":-599,"I":3.42},{"pw":150,"t":49.75,"V":-599,"I":3.53},{"pw":150,"t":50,"V":-599,"I":3.65},{"pw":150,"t":50.25,"V":-599,"I":3.75},{"pw":150,"t":50.5,"V":-599,"I":3.85},{"pw":150,"t":50.75,"V":-599,"I":3.95},{"pw":150,"t":51,"V":-599,"I":4.05},{"pw":150,"t":51.25,"V":-599,"I":4.16},{"pw":150,"t":51.5,"V":-599,"I":4.28},{"pw":150,"t":51.75,"V":-599,"I":4.39},{"pw":150,"t":52,"V":-599,"I":4.5},{"pw":150,"t":52.25,"V":-599,"I":4.61},{"pw":150,"t":52.5,"V":-599,"I":4.72},{"pw":150,"t":52.75,"V":-599,"I":4.83},{"pw":150,"t":53,"V":-599,"I":4.95},{"pw":150,"t":53.25,"V":-599,"I":5.05},{"pw":150,"t":53.5,"V":-599,"I":5.15},{"pw":150,"t":53.75,"V":-599,"I":5.25},{"pw":150,"t":54,"V":-599,"I":5.35},{"pw":150,"t":54.25,"V":-599,"I":5.45},{"pw":150,"t":54.5,"V":-599,"I":5.55},{"pw":150,"t":54.75,"V":-599,"I":5.65},{"pw":150,"t":55,"V":-599,"I":5.75},{"pw":150,"t":55.25,"V":-599,"I":5.84},{"pw":150,"t":55.5,"V":-599,"I":5.93},{"pw":150,"t":55.75,"V":-599,"I":6.01},{"pw":150,"t":56,"V":-599,"I":6.1},{"pw":150,"t":56.25,"V":-599,"I":6.17},{"pw":150,"t":56.5,"V":-599,"I":6.25},{"pw":150,"t":56.75,"V":-599,"I":6.32},{"pw":150,"t":57,"V":-599,"I":6.4},{"pw":150,"t":57.25,"V":-599,"I":6.47},{"pw":150,"t":57.5,"V":-599,"I":6.55},{"pw":150,"t":57.75,"V":-599,"I":6.62},{"pw":150,"t":58,"V":-599,"I":6.7},{"pw":150,"t":58.5,"V":-599,"I":6.83},{"pw":150,"t":59,"V":-599,"I":6.95},{"pw":150,"t":59.5,"V":-599,"I":7.08},{"pw":150,"t":60,"V":-599,"I":7.2},{"pw":150,"t":60.5,"V":-599,"I":7.33},{"pw":150,"t":61,"V":-599,"I":7.45},{"pw":150,"t":61.5,"V":-599,"I":7.56},{"pw":150,"t":62,"V":-599,"I":7.67},{"pw":150,"t":63,"V":-599,"I":7.87},{"pw":150,"t":64,"V":-599,"I":8.05},{"pw":150,"t":65,"V":-599,"I":8.22},{"pw":150,"t":66,"V":-599,"I":8.4},{"pw":150,"t":67,"V":-599,"I":8.55},{"pw":150,"t":68,"V":-599,"I":8.68},{"pw":150,"t":69,"V":-599,"I":8.8},{"pw":150,"t":70,"V":-599,"I":8.92},{"pw":150,"t":72,"V":-599,"I":9.12},{"pw":150,"t":74,"V":-599,"I":9.32},{"pw":150,"t":76,"V":-599,"I":9.5},{"pw":150,"t":78,"V":-599,"I":9.63},{"pw":150,"t":80,"V":-599,"I":9.73},{"pw":150,"t":82,"V":-599,"I":9.8},{"pw":150,"t":84,"V":-599,"I":9.85},{"pw":150,"t":86,"V":-599,"I":9.86},{"pw":150,"t":88,"V":-598,"I":9.84},{"pw":150,"t":90,"V":-598,"I":9.79},{"pw":150,"t":92,"V":-598,"I":9.71},{"pw":150,"t":94,"V":-598,"I":9.6},{"pw":150,"t":96,"V":-598,"I":9.45},{"pw":150,"t":98,"V":-598,"I":9.28},{"pw":150,"t":100,"V":-598,"I":9.08},{"pw":150,"t":102,"V":-598,"I":8.85},{"pw":150,"t":104,"V":-598,"I":8.5},{"pw":150,"t":106,"V":-598,"I":8.2},{"pw":150,"t":108,"V":-598,"I":7.95},{"pw":150,"t":110,"V":-598,"I":7.7},{"pw":150,"t":112,"V":-598,"I":7.5},{"pw":150,"t":114,"V":-597,"I":7.35},{"pw":150,"t":116,"V":-597,"I":7.22},{"pw":150,"t":118,"V":-597,"I":7.12},{"pw":150,"t":120,"V":-597,"I":7.03},{"pw":150,"t":123,"V":-597,"I":6.92},{"pw":150,"t":126,"V":-597,"I":6.83},{"pw":150,"t":129,"V":-597,"I":6.74},{"pw":150,"t":132,"V":-597,"I":6.65},{"pw":150,"t":135,"V":-597,"I":6.56},{"pw":150,"t":138,"V":-597,"I":6.48},{"pw":150,"t":141,"V":-597,"I":6.42},{"pw":150,"t":144,"V":-597,"I":6.36},{"pw":150,"t":147,"V":-597,"I":6.3},{"pw":150,"t":150,"V":-597,"I":6.24},{"pw":150,"t":150.7,"V":-576,"I":6.22},{"pw":150,"t":150.85,"V":-517,"I":6.21},{"pw":150,"t":151,"V":-413,"I":6.21},{"pw":150,"t":151.15,"V":-267,"I":6.2},{"pw":150,"t":151.3,"V":-121,"I":6.2},{"pw":150,"t":151.45,"V":-40,"I":6.19},{"pw":150,"t":151.6,"V":11,"I":6.19},{"pw":150,"t":151.75,"V":38,"I":6.18},{"pw":150,"t":151.95,"V":52,"I":6.1},{"pw":150,"t":152.1,"V":56,"I":4.8},{"pw":150,"t":152.25,"V":59,"I":4.65},{"pw":150,"t":152.4,"V":61,"I":4.4},{"pw":150,"t":152.55,"V":62,"I":4.25},{"pw":150,"t":152.8,"V":63,"I":3.73},{"pw":150,"t":153.05,"V":64,"I":3.06},{"pw":150,"t":153.3,"V":65,"I":2.4},{"pw":150,"t":153.55,"V":66,"I":1.67},{"pw":150,"t":153.8,"V":66,"I":1.1},{"pw":150,"t":154.05,"V":67,"I":0.67},{"pw":150,"t":154.3,"V":67,"I":0.24},{"pw":150,"t":154.6,"V":67,"I":-0.3},{"pw":150,"t":155,"V":68,"I":-0.8},{"pw":150,"t":155.5,"V":68,"I":-1.1},{"pw":150,"t":156.2,"V":69,"I":-0.9},{"pw":150,"t":157,"V":69,"I":-0.7},{"pw":150,"t":158,"V":69,"I":-0.55},{"pw":150,"t":159,"V":69,"I":-0.48},
{"pw":150,"t":162,"V":69,"I":-0.46},{"pw":150,"t":166,"V":69,"I":-0.46},{"pw":150,"t":170,"V":69,"I":-0.45},{"pw":150,"t":174,"V":69,"I":-0.43},{"pw":150,"t":178,"V":69,"I":-0.4},{"pw":150,"t":182,"V":69,"I":-0.37},{"pw":150,"t":186,"V":69,"I":-0.35},{"pw":150,"t":190,"V":69,"I":-0.32},{"pw":150,"t":194,"V":69,"I":-0.3},{"pw":150,"t":198,"V":69,"I":-0.28},{"pw":150,"t":202,"V":69,"I":-0.26},{"pw":150,"t":206,"V":69,"I":-0.25},{"pw":150,"t":210,"V":69,"I":-0.23},{"pw":150,"t":214,"V":69,"I":-0.22},{"pw":150,"t":218,"V":69,"I":-0.21},{"pw":150,"t":222,"V":69,"I":-0.19},{"pw":150,"t":226,"V":69,"I":-0.18},{"pw":150,"t":230,"V":69,"I":-0.17},{"pw":150,"t":234,"V":69,"I":-0.16},{"pw":150,"t":238,"V":69,"I":-0.15},{"pw":150,"t":242,"V":69,"I":-0.13},{"pw":150,"t":246,"V":69,"I":-0.12},{"pw":150,"t":250,"V":69,"I":-0.11},{"pw":150,"t":254,"V":69,"I":-0.1},{"pw":150,"t":258,"V":69,"I":-0.09},{"pw":150,"t":262,"V":69,"I":-0.08},{"pw":150,"t":266,"V":69,"I":-0.07},{"pw":150,"t":270,"V":69,"I":-0.06},{"pw":150,"t":274,"V":69,"I":-0.05},{"pw":150,"t":278,"V":69,"I":-0.04},{"pw":150,"t":282,"V":69,"I":-0.03},{"pw":150,"t":286,"V":69,"I":-0.02},{"pw":150,"t":290,"V":69,"I":-0.01},{"pw":150,"t":294,"V":69,"I":0},{"pw":150,"t":298,"V":69,"I":0},{"pw":150,"t":302,"V":69,"I":0.01},{"pw":150,"t":306,"V":69,"I":0.02},{"pw":150,"t":310,"V":69,"I":0.02},{"pw":150,"t":314,"V":69,"I":0.03},{"pw":150,"t":318,"V":69,"I":0.03},{"pw":150,"t":322,"V":69,"I":0.04},{"pw":150,"t":326,"V":69,"I":0.04},{"pw":150,"t":330,"V":69,"I":0.05},{"pw":150,"t":334,"V":69,"I":0.05},{"pw":150,"t":338,"V":69,"I":0.06},{"pw":150,"t":342,"V":69,"I":0.06},{"pw":150,"t":346,"V":69,"I":0.07},{"pw":150,"t":349.5,"V":62,"I":0.07},{"pw":150,"t":350.3,"V":50,"I":0.07},{"pw":150,"t":351,"V":38,"I":0.07},{"pw":150,"t":351.7,"V":26,"I":0.07},{"pw":150,"t":352.4,"V":15,"I":0.07},{"pw":150,"t":353.1,"V":7,"I":0.07},{"pw":150,"t":353.8,"V":1,"I":0.07},{"pw":150,"t":355,"V":-1,"I":0.07},{"pw":150,"t":358,"V":-1,"I":0.07},{"pw":150,"t":362,"V":-1,"I":0.08},{"pw":150,"t":366,"V":-1,"I":0.08},{"pw":150,"t":370,"V":-1,"I":0.08},{"pw":150,"t":374,"V":-1,"I":0.09},{"pw":150,"t":378,"V":-1,"I":0.09},{"pw":150,"t":382,"V":-1,"I":0.09},{"pw":150,"t":386,"V":-1,"I":0.1},{"pw":150,"t":390,"V":-1,"I":0.1},{"pw":150,"t":394,"V":-1,"I":0.1},{"pw":150,"t":398,"V":-1,"I":0.1},{"pw":150,"t":402,"V":-1,"I":0.11},{"pw":150,"t":406,"V":-1,"I":0.11},{"pw":150,"t":410,"V":-1,"I":0.11},{"pw":150,"t":414,"V":-1,"I":0.11},{"pw":150,"t":418,"V":-1,"I":0.12},{"pw":150,"t":422,"V":-1,"I":0.12},{"pw":150,"t":426,"V":-1,"I":0.12},
{"pw":200,"t":-7,"V":0,"I":-0.05},{"pw":200,"t":-6,"V":0,"I":-0.05},{"pw":200,"t":-5,"V":0,"I":-0.05},{"pw":200,"t":-4,"V":0,"I":-0.05},{"pw":200,"t":-3,"V":0,"I":-0.05},{"pw":200,"t":-2,"V":0,"I":-0.05},{"pw":200,"t":-1.4,"V":0,"I":-0.05},{"pw":200,"t":-1.2,"V":-30,"I":-0.05},{"pw":200,"t":-1,"V":-280,"I":-0.05},{"pw":200,"t":-0.8,"V":-455,"I":-0.05},{"pw":200,"t":-0.6,"V":-530,"I":-0.05},{"pw":200,"t":-0.4,"V":-565,"I":-0.05},{"pw":200,"t":-0.2,"V":-588,"I":-0.05},{"pw":200,"t":0,"V":-595,"I":-0.05},{"pw":200,"t":1.3,"V":-597,"I":0.48},{"pw":200,"t":2,"V":-597,"I":0.1},{"pw":200,"t":3,"V":-597,"I":-0.05},{"pw":200,"t":6,"V":-597,"I":-0.05},{"pw":200,"t":10,"V":-597,"I":-0.05},{"pw":200,"t":14,"V":-597,"I":-0.05},{"pw":200,"t":18,"V":-597,"I":-0.05},{"pw":200,"t":22,"V":-597,"I":-0.05},{"pw":200,"t":26,"V":-597,"I":-0.05},{"pw":200,"t":30,"V":-597,"I":-0.05},{"pw":200,"t":34,"V":-597,"I":-0.05},{"pw":200,"t":38,"V":-597,"I":-0.05},{"pw":200,"t":42,"V":-597,"I":-0.05},{"pw":200,"t":46,"V":-597,"I":-0.05},{"pw":200,"t":50,"V":-597,"I":-0.05},{"pw":200,"t":54,"V":-597,"I":-0.05},{"pw":200,"t":58,"V":-597,"I":-0.05},{"pw":200,"t":62,"V":-597,"I":-0.05},{"pw":200,"t":66,"V":-597,"I":-0.05},{"pw":200,"t":68,"V":-596,"I":-0.03},{"pw":200,"t":69,"V":-596,"I":0.05},{"pw":200,"t":70,"V":-595,"I":0.15},{"pw":200,"t":70.5,"V":-595,"I":0.25},{"pw":200,"t":71,"V":-595,"I":0.35},{"pw":200,"t":71.5,"V":-595,"I":0.45},{"pw":200,"t":72,"V":-594,"I":0.55},{"pw":200,"t":72.5,"V":-594,"I":0.65},{"pw":200,"t":73,"V":-594,"I":0.75},{"pw":200,"t":73.5,"V":-594,"I":0.86},{"pw":200,"t":74,"V":-594,"I":1},{"pw":200,"t":74.5,"V":-594,"I":1.17},{"pw":200,"t":75,"V":-594,"I":1.35},{"pw":200,"t":75.5,"V":-594,"I":1.5},{"pw":200,"t":76,"V":-593,"I":1.65},{"pw":200,"t":76.5,"V":-593,"I":1.8},{"pw":200,"t":76.75,"V":-593,"I":1.9},{"pw":200,"t":77,"V":-593,"I":2},{"pw":200,"t":77.25,"V":-593,"I":2.11},{"pw":200,"t":77.5,"V":-593,"I":2.22},{"pw":200,"t":77.75,"V":-593,"I":2.34},{"pw":200,"t":78,"V":-593,"I":2.45},{"pw":200,"t":78.25,"V":-593,"I":2.57},{"pw":200,"t":78.5,"V":-593,"I":2.68},{"pw":200,"t":78.75,"V":-593,"I":2.79},{"pw":200,"t":79,"V":-593,"I":2.9},{"pw":200,"t":79.25,"V":-593,"I":3.01},{"pw":200,"t":79.5,"V":-593,"I":3.12},{"pw":200,"t":79.75,"V":-593,"I":3.24},{"pw":200,"t":80,"V":-593,"I":3.35},{"pw":200,"t":80.25,"V":-593,"I":3.47},{"pw":200,"t":80.5,"V":-593,"I":3.58},{"pw":200,"t":80.75,"V":-593,"I":3.69},{"pw":200,"t":81,"V":-593,"I":3.8},{"pw":200,"t":81.25,"V":-593,"I":3.9},{"pw":200,"t":81.5,"V":-593,"I":4},{"pw":200,"t":81.75,"V":-593,"I":4.1},{"pw":200,"t":82,"V":-593,"I":4.2},{"pw":200,"t":82.25,"V":-593,"I":4.3},{"pw":200,"t":82.5,"V":-593,"I":4.4},{"pw":200,"t":82.75,"V":-593,"I":4.5},{"pw":200,"t":83,"V":-593,"I":4.6},{"pw":200,"t":83.25,"V":-593,"I":4.69},{"pw":200,"t":83.5,"V":-593,"I":4.78},{"pw":200,"t":83.75,"V":-593,"I":4.87},{"pw":200,"t":84,"V":-593,"I":4.95},{"pw":200,"t":84.25,"V":-593,"I":5.05},{"pw":200,"t":84.5,"V":-593,"I":5.15},{"pw":200,"t":84.75,"V":-593,"I":5.25},{"pw":200,"t":85,"V":-593,"I":5.35},{"pw":200,"t":85.25,"V":-593,"I":5.44},{"pw":200,"t":85.5,"V":-593,"I":5.52},{"pw":200,"t":85.75,"V":-593,"I":5.61},{"pw":200,"t":86,"V":-593,"I":5.7},{"pw":200,"t":86.25,"V":-593,"I":5.8},{"pw":200,"t":86.5,"V":-593,"I":5.9},{"pw":200,"t":86.75,"V":-593,"I":6},{"pw":200,"t":87,"V":-592,"I":6.1},{"pw":200,"t":87.25,"V":-592,"I":6.2},{"pw":200,"t":87.5,"V":-592,"I":6.3},{"pw":200,"t":87.75,"V":-592,"I":6.4},{"pw":200,"t":88,"V":-592,"I":6.5},{"pw":200,"t":88.25,"V":-592,"I":6.59},{"pw":200,"t":88.5,"V":-592,"I":6.68},{"pw":200,"t":88.75,"V":-592,"I":6.77},{"pw":200,"t":89,"V":-592,"I":6.85},{"pw":200,"t":89.25,"V":-592,"I":6.94},{"pw":200,"t":89.5,"V":-592,"I":7.03},{"pw":200,"t":89.75,"V":-592,"I":7.12},{"pw":200,"t":90,"V":-592,"I":7.2},{"pw":200,"t":90.25,"V":-592,"I":7.28},{"pw":200,"t":90.5,"V":-592,"I":7.35},{"pw":200,"t":90.75,"V":-592,"I":7.43},{"pw":200,"t":91,"V":-592,"I":7.5},{"pw":200,"t":91.5,"V":-592,"I":7.63},{"pw":200,"t":92,"V":-592,"I":7.75},{"pw":200,"t":92.5,"V":-592,"I":7.85},{"pw":200,"t":93,"V":-592,"I":7.95},{"pw":200,"t":93.5,"V":-592,"I":8.03},{"pw":200,"t":94,"V":-592,"I":8.1},{"pw":200,"t":95,"V":-592,"I":8.25},{"pw":200,"t":96,"V":-592,"I":8.4},{"pw":200,"t":97,"V":-592,"I":8.52},{"pw":200,"t":98,"V":-592,"I":8.65},{"pw":200,"t":99,"V":-592,"I":8.78},{"pw":200,"t":100,"V":-592,"I":8.9},{"pw":200,"t":101,"V":-591,"I":9.02},{"pw":200,"t":102,"V":-591,"I":9.14},{"pw":200,"t":103,"V":-591,"I":9.26},{"pw":200,"t":104,"V":-591,"I":9.37},{"pw":200,"t":105,"V":-591,"I":9.47},{"pw":200,"t":106,"V":-591,"I":9.56},{"pw":200,"t":108,"V":-591,"I":9.7},{"pw":200,"t":110,"V":-591,"I":9.82},{"pw":200,"t":112,"V":-591,"I":9.9},{"pw":200,"t":114,"V":-591,"I":9.95},{"pw":200,"t":116,"V":-591,"I":9.98},{"pw":200,"t":118,"V":-591,"I":9.98},{"pw":200,"t":120,"V":-591,"I":9.95},{"pw":200,"t":122,"V":-591,"I":9.9},{"pw":200,"t":124,"V":-591,"I":9.8},{"pw":200,"t":126,"V":-591,"I":9.68},{"pw":200,"t":128,"V":-591,"I":9.52},{"pw":200,"t":130,"V":-591,"I":9.35},{"pw":200,"t":132,"V":-591,"I":9.15},{"pw":200,"t":134,"V":-591,"I":8.95},{"pw":200,"t":136,"V":-591,"I":8.75},{"pw":200,"t":138,"V":-591,"I":8.55},{"pw":200,"t":140,"V":-591,"I":8.35},{"pw":200,"t":142,"V":-591,"I":8.15},{"pw":200,"t":144,"V":-591,"I":7.95},{"pw":200,"t":146,"V":-591,"I":7.78},{"pw":200,"t":148,"V":-591,"I":7.6},{"pw":200,"t":150,"V":-591,"I":7.45},{"pw":200,"t":152,"V":-591,"I":7.3},{"pw":200,"t":154,"V":-591,"I":7.17},{"pw":200,"t":156,"V":-591,"I":7.05},{"pw":200,"t":159,"V":-591,"I":6.9},{"pw":200,"t":162,"V":-591,"I":6.78},{"pw":200,"t":165,"V":-591,"I":6.67},{"pw":200,"t":168,"V":-591,"I":6.57},{"pw":200,"t":171,"V":-591,"I":6.48},{"pw":200,"t":174,"V":-591,"I":6.4},{"pw":200,"t":177,"V":-591,"I":6.32},{"pw":200,"t":180,"V":-591,"I":6.25},{"pw":200,"t":183,"V":-591,"I":6.17},{"pw":200,"t":186,"V":-591,"I":6.08},{"pw":200,"t":189,"V":-591,"I":6},{"pw":200,"t":192,"V":-591,"I":5.9},{"pw":200,"t":195,"V":-591,"I":5.8},{"pw":200,"t":198,"V":-591,"I":5.67},{"pw":200,"t":200,"V":-591,"I":5.52},{"pw":200,"t":201.4,"V":-583,"I":5.35},{"pw":200,"t":201.6,"V":-509,"I":5.32},{"pw":200,"t":201.8,"V":-413,"I":5.29},{"pw":200,"t":202,"V":-260,"I":5.26},{"pw":200,"t":202.2,"V":-110,"I":5.23},{"pw":200,"t":202.4,"V":-28,"I":5.2},{"pw":200,"t":202.6,"V":20,"I":5.17},{"pw":200,"t":202.85,"V":42,"I":5.1},{"pw":200,"t":203,"V":50,"I":4.82},{"pw":200,"t":203.2,"V":59,"I":4.34},{"pw":200,"t":203.4,"V":62,"I":3.96},{"pw":200,"t":203.6,"V":64,"I":3.62},{"pw":200,"t":203.8,"V":65,"I":3.14},{"pw":200,"t":204,"V":66,"I":2.56},{"pw":200,"t":204.2,"V":67,"I":1.94},{"pw":200,"t":204.4,"V":67,"I":1.31},{"pw":200,"t":204.6,"V":68,"I":0.74},{"pw":200,"t":204.8,"V":68,"I":0.45},{"pw":200,"t":205,"V":68,"I":0.16},{"pw":200,"t":205.3,"V":69,"I":-0.4},{"pw":200,"t":205.7,"V":69,"I":-0.9},{"pw":200,"t":206.2,"V":70,"I":-1.1},{"pw":200,"t":207,"V":70,"I":-0.75},{"pw":200,"t":208,"V":71,"I":-0.9},{"pw":200,"t":209,"V":71,"I":-0.6},{"pw":200,"t":210,"V":71,"I":-0.55},{"pw":200,"t":212,"V":72,"I":-0.5},
{"pw":200,"t":215,"V":71,"I":-0.47},{"pw":200,"t":219,"V":71,"I":-0.45},{"pw":200,"t":223,"V":71,"I":-0.43},{"pw":200,"t":227,"V":71,"I":-0.41},{"pw":200,"t":231,"V":71,"I":-0.4},{"pw":200,"t":235,"V":71,"I":-0.38},{"pw":200,"t":239,"V":71,"I":-0.37},{"pw":200,"t":243,"V":71,"I":-0.36},{"pw":200,"t":247,"V":71,"I":-0.35},{"pw":200,"t":251,"V":71,"I":-0.33},{"pw":200,"t":255,"V":71,"I":-0.32},{"pw":200,"t":259,"V":71,"I":-0.3},{"pw":200,"t":263,"V":71,"I":-0.29},{"pw":200,"t":267,"V":71,"I":-0.28},{"pw":200,"t":271,"V":71,"I":-0.27},{"pw":200,"t":275,"V":71,"I":-0.26},{"pw":200,"t":279,"V":71,"I":-0.25},{"pw":200,"t":283,"V":71,"I":-0.24},{"pw":200,"t":287,"V":71,"I":-0.23},{"pw":200,"t":291,"V":71,"I":-0.22},{"pw":200,"t":295,"V":71,"I":-0.21},{"pw":200,"t":299,"V":71,"I":-0.21},{"pw":200,"t":303,"V":71,"I":-0.2},{"pw":200,"t":307,"V":71,"I":-0.19},{"pw":200,"t":311,"V":71,"I":-0.19},{"pw":200,"t":315,"V":71,"I":-0.18},{"pw":200,"t":319,"V":71,"I":-0.18},{"pw":200,"t":323,"V":71,"I":-0.17},{"pw":200,"t":327,"V":71,"I":-0.17},{"pw":200,"t":331,"V":71,"I":-0.16},{"pw":200,"t":335,"V":71,"I":-0.16},{"pw":200,"t":339,"V":71,"I":-0.15},{"pw":200,"t":343,"V":71,"I":-0.15},{"pw":200,"t":347,"V":71,"I":-0.14},{"pw":200,"t":351,"V":71,"I":-0.14},{"pw":200,"t":355,"V":71,"I":-0.13},{"pw":200,"t":359,"V":71,"I":-0.13},{"pw":200,"t":363,"V":71,"I":-0.12},{"pw":200,"t":367,"V":71,"I":-0.12},{"pw":200,"t":371,"V":71,"I":-0.11},{"pw":200,"t":375,"V":71,"I":-0.11},{"pw":200,"t":379,"V":71,"I":-0.1},{"pw":200,"t":383,"V":71,"I":-0.1},{"pw":200,"t":387,"V":71,"I":-0.09},{"pw":200,"t":391,"V":71,"I":-0.09},{"pw":200,"t":395,"V":71,"I":-0.08},{"pw":200,"t":399,"V":71,"I":-0.08},{"pw":200,"t":402.5,"V":70,"I":-0.07},{"pw":200,"t":403.2,"V":60,"I":-0.07},{"pw":200,"t":404,"V":47,"I":-0.06},{"pw":200,"t":404.7,"V":33,"I":-0.06},{"pw":200,"t":405.4,"V":20,"I":-0.06},{"pw":200,"t":406.1,"V":9,"I":-0.05},{"pw":200,"t":406.8,"V":2,"I":-0.05},{"pw":200,"t":408,"V":0,"I":-0.05},{"pw":200,"t":412,"V":0,"I":-0.04},{"pw":200,"t":416,"V":0,"I":-0.04},{"pw":200,"t":420,"V":0,"I":-0.03},{"pw":200,"t":424,"V":0,"I":-0.03},{"pw":200,"t":428,"V":0,"I":-0.02}
]},
"vconcat": [
{
  "width": 666, "height": 519,
  "resolve": {"axis": {"y": "independent"}},
  "layer": [
    {"mark": {"type": "line", "strokeWidth": 1, "opacity": 0.55, "clip": true},
     "encoding": {
       "x": {"field": "t", "type": "quantitative", "scale": {"domain": [-8.4, 428], "nice": false, "zero": false}, "axis": null},
       "y": {"field": "V", "type": "quantitative", "scale": {"domain": [-760, 108], "nice": false, "zero": false},
             "axis": {"title": "Target voltage [V]", "orient": "left", "values": [-700,-650,-600,-550,-500,-450,-400,-350,-300,-250,-200,-150,-100,-50,0,50,100],
                      "labelExpr": "datum.value % 100 === 0 ? datum.label : ''",
                      "tickSize": {"condition": {"test": "datum.value % 100 === 0", "value": 15}, "value": 9},
                      "labelPadding": 10, "titleX": -107.5, "titleY": 243.7, "titleBaseline": "alphabetic"}},
       "stroke": {"field": "pw", "type": "nominal", "scale": {"domain": [10, 50, 100, 150, 200], "range": ["#000000", "#ff0000", "#00ff00", "#0000ff", "#ff8000"]},
                  "legend": {"title": null, "orient": "none", "legendX": 433.5, "legendY": 229, "values": [10, 50, 100, 150, 200], "symbolType": "M-9.7,0H9.7", "symbolSize": 100, "symbolStrokeWidth": 1.2, "symbolOpacity": 0.6, "labelFontSize": 27, "labelOpacity": 0, "labelOffset": 51, "labelBaseline": "alphabetic", "rowPadding": 6, "padding": 0}}
     }},
    {"mark": {"type": "point", "filled": true, "opacity": 1, "clip": true},
     "encoding": {
       "x": {"field": "t", "type": "quantitative", "scale": {"domain": [-8.4, 428], "nice": false, "zero": false}, "axis": null},
       "y": {"field": "V", "type": "quantitative", "scale": {"domain": [-760, 108], "nice": false, "zero": false}, "axis": null},
       "fill": {"field": "pw", "type": "nominal", "scale": {"range": ["#000000", "#ff0000", "#00ff00", "#0000ff", "#ff8000"]},
                "legend": {"title": null, "orient": "none", "legendX": 433.5, "legendY": 229, "values": [10, 50, 100, 150, 200], "symbolSize": 50, "symbolStrokeWidth": 0, "labelFontSize": 27, "labelColor": "black", "labelOffset": 51, "labelBaseline": "alphabetic", "rowPadding": 6, "padding": 0}},
       "shape": {"field": "pw", "type": "nominal", "scale": {"range": ["circle", "square", "diamond", "triangle-up", "triangle-down"]},
                "legend": {"title": null, "orient": "none", "legendX": 433.5, "legendY": 229, "values": [10, 50, 100, 150, 200], "symbolSize": 50, "symbolStrokeWidth": 0, "labelFontSize": 27, "labelColor": "black", "labelOffset": 51, "labelBaseline": "alphabetic", "rowPadding": 6, "padding": 0}},
       "size": {"field": "pw", "type": "quantitative", "scale": {"type": "linear", "domain": [10, 50, 100, 150, 200], "range": [35, 90, 45, 55, 60], "zero": false, "nice": false}, "legend": null}
     }},
    {"data": {"values": [{"note": "box"}]},
     "mark": {"type": "rect", "fill": "white", "stroke": "#00b050", "strokeWidth": 2.2, "clip": false},
     "encoding": {
       "x": {"datum": 251.5, "type": "quantitative", "scale": {"domain": [-8.4, 428], "nice": false, "zero": false}, "axis": null},
       "x2": {"datum": 474.5},
       "y": {"datum": -577.8, "type": "quantitative", "scale": {"domain": [-760, 108], "nice": false, "zero": false}, "axis": null},
       "y2": {"datum": -706}
     }},
    {"data": {"values": [{"label": "Fixed +70V Kick"}]},
     "mark": {"type": "text", "font": "Lato", "fontSize": 42, "align": "center", "baseline": "alphabetic", "color": "black"},
     "encoding": {
       "x": {"datum": 362.6, "type": "quantitative", "scale": {"domain": [-8.4, 428], "nice": false, "zero": false}, "axis": null},
       "y": {"datum": -669.7, "type": "quantitative", "scale": {"domain": [-760, 108], "nice": false, "zero": false}, "axis": null},
       "text": {"field": "label"}
     }},
    {"data": {"values": [{"label": "Pulse Width,"}]},
     "mark": {"type": "text", "font": "Liberation Sans", "fontSize": 25.5, "align": "left", "baseline": "alphabetic", "color": "black"},
     "encoding": {
       "x": {"datum": 227, "type": "quantitative", "scale": {"domain": [-8.4, 428], "nice": false, "zero": false}, "axis": null},
       "y": {"datum": -232.3, "type": "quantitative", "scale": {"domain": [-760, 108], "nice": false, "zero": false}, "axis": null},
       "text": {"field": "label"}
     }},
    {"data": {"values": [{"label": "τ"}]},
     "mark": {"type": "text", "font": "Liberation Serif", "fontStyle": "italic", "fontSize": 32, "align": "left", "baseline": "alphabetic", "color": "black"},
     "encoding": {
       "x": {"datum": 324.5, "type": "quantitative", "scale": {"domain": [-8.4, 428], "nice": false, "zero": false}, "axis": null},
       "y": {"datum": -232.3, "type": "quantitative", "scale": {"domain": [-760, 108], "nice": false, "zero": false}, "axis": null},
       "text": {"field": "label"}
     }},
    {"data": {"values": [{"label": "neg"}]},
     "mark": {"type": "text", "font": "Liberation Sans", "fontSize": 24, "align": "left", "baseline": "alphabetic", "color": "black"},
     "encoding": {
       "x": {"datum": 334.8, "type": "quantitative", "scale": {"domain": [-8.4, 428], "nice": false, "zero": false}, "axis": null},
       "y": {"datum": -240.6, "type": "quantitative", "scale": {"domain": [-760, 108], "nice": false, "zero": false}, "axis": null},
       "text": {"field": "label"}
     }},
    {"data": {"values": [{"label": "[µs]:"}]},
     "mark": {"type": "text", "font": "Liberation Sans", "fontSize": 25.5, "align": "left", "baseline": "alphabetic", "color": "black"},
     "encoding": {
       "x": {"datum": 373, "type": "quantitative", "scale": {"domain": [-8.4, 428], "nice": false, "zero": false}, "axis": null},
       "y": {"datum": -232.3, "type": "quantitative", "scale": {"domain": [-760, 108], "nice": false, "zero": false}, "axis": null},
       "text": {"field": "label"}
     }}
  ]
},
{
  "width": 666, "height": 508,
  "resolve": {"axis": {"x": "independent", "y": "independent"}},
  "layer": [
    {"mark": {"type": "line", "strokeWidth": 1, "opacity": 0.55, "clip": true},
     "encoding": {
       "x": {"field": "t", "type": "quantitative", "scale": {"domain": [-8.4, 428], "nice": false, "zero": false},
             "axis": {"title": "Time [µs]", "orient": "bottom", "values": [0,50,100,150,200,250,300,350,400],
                      "labelExpr": "datum.value % 100 === 0 ? datum.label : ''",
                      "tickSize": {"condition": {"test": "datum.value % 100 === 0", "value": 15}, "value": 9},
                      "labelBaseline": "alphabetic", "labelPadding": 26.7, "titleY": 92.7, "titleBaseline": "alphabetic"}},
       "y": {"field": "I", "type": "quantitative", "scale": {"domain": [-1.14, 11.11], "nice": false, "zero": false},
             "axis": {"title": "Target current [A]", "orient": "left", "values": [-1,0,1,2,3,4,5,6,7,8,9,10,11],
                      "labelExpr": "datum.value % 2 === 0 ? datum.label : ''",
                      "tickSize": {"condition": {"test": "datum.value % 2 === 0", "value": 15}, "value": 9},
                      "labelPadding": 10, "titleX": -107.5, "titleY": 254, "titleBaseline": "alphabetic"}},
       "stroke": {"field": "pw", "type": "nominal", "scale": {"domain": [10, 50, 100, 150, 200], "range": ["#000000", "#ff0000", "#00ff00", "#0000ff", "#ff8000"]}, "legend": null}
     }},
    {"mark": {"type": "point", "filled": true, "opacity": 1, "clip": true},
     "encoding": {
       "x": {"field": "t", "type": "quantitative", "scale": {"domain": [-8.4, 428], "nice": false, "zero": false},
             "axis": {"orient": "top", "title": null, "labels": false, "values": [0,50,100,150,200,250,300,350,400],
                      "tickSize": {"condition": {"test": "datum.value % 100 === 0", "value": 15}, "value": 9}}},
       "y": {"field": "I", "type": "quantitative", "scale": {"domain": [-1.14, 11.11], "nice": false, "zero": false}, "axis": null},
       "fill": {"field": "pw", "type": "nominal", "scale": {"range": ["#000000", "#ff0000", "#00ff00", "#0000ff", "#ff8000"]}, "legend": null},
       "shape": {"field": "pw", "type": "nominal", "scale": {"range": ["circle", "square", "diamond", "triangle-up", "triangle-down"]}, "legend": null},
       "size": {"field": "pw", "type": "quantitative", "scale": {"type": "linear", "domain": [10, 50, 100, 150, 200], "range": [35, 90, 45, 55, 60], "zero": false, "nice": false}, "legend": null}
     }}
  ]
}
]
}
